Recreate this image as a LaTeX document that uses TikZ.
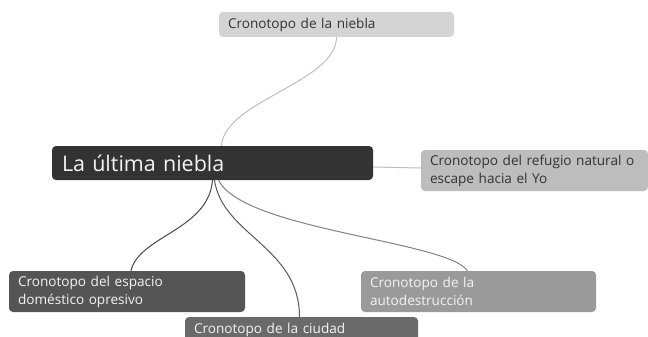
\documentclass[tikz,border=0pt]{standalone}
\usepackage{fontspec}
\setmainfont{Open Sans}
\definecolor{topfill}{HTML}{D4D4D4}
\definecolor{rootfill}{HTML}{333333}
\definecolor{rightfill}{HTML}{BDBDBD}
\definecolor{blfill}{HTML}{555555}
\definecolor{bmfill}{HTML}{6A6A6A}
\definecolor{brfill}{HTML}{9A9A9A}
\definecolor{darktext}{HTML}{333333}
\definecolor{lighttext}{HTML}{F4F4F4}
\begin{document}
\begin{tikzpicture}[x=1pt,y=-1pt,
  box/.style={rounded corners=4pt, inner xsep=9pt, inner ysep=0pt, align=left,
    font=\fontsize{13.6}{18}\selectfont, anchor=center},
  link/.style={line width=1pt}]
\useasboundingbox (0,0) rectangle (648,337);
\clip (0,0) rectangle (648,337);
\fill[white] (0,0) rectangle (648,337);

\node[box, fill=rootfill, text=lighttext, minimum width=321pt, minimum height=34pt,
  text width=301pt, inner xsep=10pt, font=\fontsize{21.5}{23}\selectfont] (root) at (212.5,163) {La última niebla};
\node[box, fill=topfill, text=darktext, minimum width=235pt, minimum height=25pt,
  text width=217pt] (top) at (336.5,24.5) {Cronotopo de la niebla};
\node[box, fill=rightfill, text=darktext, minimum width=227pt, minimum height=41pt,
  text width=209pt] (right) at (534.5,170.5) {Cronotopo del refugio natural o\\escape hacia el Yo};
\node[box, fill=blfill, text=lighttext, minimum width=236pt, minimum height=41pt,
  text width=218pt] (bl) at (127,291.5) {Cronotopo del espacio\\doméstico opresivo};
\node[box, fill=bmfill, text=lighttext, minimum width=233pt, minimum height=25pt,
  text width=215pt] (bm) at (301.5,329.5) {Cronotopo de la ciudad};
\node[box, fill=brfill, text=lighttext, minimum width=235pt, minimum height=41pt,
  text width=217pt] (br) at (478.5,291.5) {Cronotopo de la\\autodestrucción};

\draw[link, color=topfill!90!black] ([xshift=9pt]root.north) .. controls +(3,-45) and +(0,45) .. (top.south);
\draw[link, color=rightfill] ([yshift=-4pt]root.east) -- ([yshift=2.5pt]right.west);
\draw[link, color=blfill!85!black] (root.south) .. controls +(-4,50) and +(8,-35) .. ([xshift=4pt]bl.north);
\draw[link, color=bmfill!85!black] ([xshift=2pt]root.south) .. controls +(8,55) and +(0,-70) .. ([xshift=-2pt]bm.north);
\draw[link, color=brfill!85!black] ([xshift=6pt]root.south) .. controls +(25,50) and +(-20,-30) .. ([xshift=-11pt]br.north);
\end{tikzpicture}
\end{document}
